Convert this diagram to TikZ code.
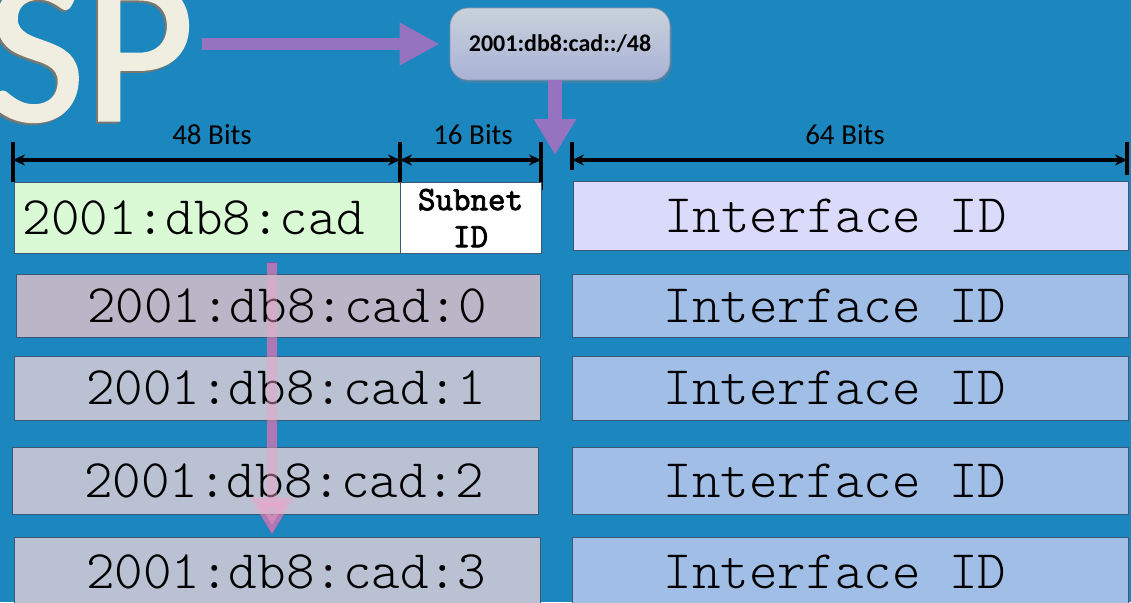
\documentclass[tikz,border=0pt]{standalone}
\usepackage{fontspec}
\setmainfont{Carlito}
\newfontfamily\monof{Latin Modern Mono Light}
\newfontfamily\subf[FakeBold=2.5]{Latin Modern Mono}
\newfontfamily\spfont[FakeBold=1.6]{Carlito}
\usetikzlibrary{arrows.meta,shadows,calc}
\definecolor{bg}{RGB}{28,134,190}
\definecolor{cream}{RGB}{240,237,225}
\definecolor{creamshade}{RGB}{120,120,112}
\definecolor{apurple}{RGB}{150,115,192}
\definecolor{apurpledark}{RGB}{118,88,165}
\definecolor{apink}{RGB}{245,160,200}
\definecolor{pfxtop}{RGB}{200,210,218}
\definecolor{pfxbot}{RGB}{170,178,214}
\definecolor{green0}{RGB}{217,250,213}
\definecolor{lav0}{RGB}{218,218,250}
\definecolor{row1}{RGB}{186,182,200}
\definecolor{rowx}{RGB}{186,193,210}
\definecolor{ifc}{RGB}{160,190,230}
\definecolor{edge}{RGB}{60,88,120}
\begin{document}
\begin{tikzpicture}[x=1pt,y=-1pt,
  cell/.style={draw=edge, line width=1pt, inner sep=0pt, text=black},
  monotext/.style={font=\monof\fontsize{54.3}{56}\selectfont},
  bitlabel/.style={font=\fontsize{29}{32}\selectfont, text=black, inner sep=0pt},
  dim/.style={line width=3.5pt, {Stealth[length=12pt,width=11pt]}-{Stealth[length=12pt,width=11pt]}},
  tick/.style={line width=3.5pt},
  fatarrow/.style={draw=apurple, line width=12pt, -{Triangle[length=40pt,width=40pt]}},
]
\fill[bg] (0,0) rectangle (1131,602);
\useasboundingbox (0,0) rectangle (1131,602);

% SP
\node[anchor=base west, inner sep=0pt, text=creamshade, font=\spfont\fontsize{212}{212}\selectfont] at (-15,122) {SP};
\node[anchor=base west, inner sep=0pt, text=cream, font=\spfont\fontsize{212}{212}\selectfont] (sp) at (-13,120) {SP};

% prefix box
\node[rounded corners=18pt, top color=pfxtop, bottom color=pfxbot, draw=pfxbot!80!black, line width=0.6pt,
      minimum width=220pt, minimum height=72pt, drop shadow={opacity=0.35, shadow xshift=2pt, shadow yshift=-3pt},
      font=\bfseries\fontsize{24}{26}\selectfont] (p) at (560,44) {2001:db8:cad::/48};

\draw[fatarrow, shorten <=8pt, shorten >=10pt] (sp.east |- p.west) -- (p.west);
\coordinate (dtip) at (555,155);
\draw[fatarrow, line width=14pt, -{Triangle[length=36pt,width=40pt]}] ([xshift=-5pt]p.south) -- (dtip);

% dimension lines
\foreach \n/\x/\b in {t0/13/182, t1/400/182, t2/541/190, t3/572/170, t4/1127/175} {
  \coordinate (\n a) at (\x,142);
  \coordinate (\n) at (\x,160);
  \coordinate (\n b) at (\x,\b);
  \draw[tick] (\n a) -- (\n b);
}
\draw[dim] (t0) -- (t1);
\draw[dim] (t1) -- (t2);
\draw[dim] (t3) -- (t4);
\node[bitlabel] (l48) at (212,135) {48 Bits};
\node[bitlabel] (l16) at (473,135) {16 Bits};
\node[bitlabel] (l64) at (845,135) {64 Bits};

% purple row arrow (underneath)
\coordinate (rtop) at (272,262);
\coordinate (rtip) at (272,535);
\draw[draw=apurpledark, line width=10pt, -{Triangle[length=37pt,width=41pt]}] (rtop) -- (rtip);

% row 0
\node[cell, fill=green0, minimum width=386pt, minimum height=71pt, monotext] (g) at (207,217.5) {2001:db8:cad\hspace*{26pt}};
\node[cell, fill=white, minimum width=141pt, minimum height=71pt, align=center,
      font=\subf\fontsize{34}{37}\selectfont] (sub) at (470.5,218) {Subnet\\ID};
\node[cell, fill=lav0, minimum width=555pt, minimum height=69pt, monotext] (i0) at (850.5,215.5) {Interface ID\hspace*{30pt}};

% rows 1-4
\node[cell, fill=row1, minimum width=524pt, minimum height=63pt, monotext] (r1) at (278,305.5) {\hspace*{18pt}2001:db8:cad:0};
\node[cell, fill=ifc, minimum width=556pt, minimum height=63pt, monotext] (i1) at (850,305.5) {Interface ID\hspace*{30pt}};
\node[cell, fill=rowx, minimum width=526pt, minimum height=64pt, monotext] (r2) at (277,388) {\hspace*{18pt}2001:db8:cad:1};
\node[cell, fill=ifc, minimum width=556pt, minimum height=64pt, monotext] (i2) at (850,388) {Interface ID\hspace*{30pt}};
\node[cell, fill=rowx, minimum width=526pt, minimum height=67pt, monotext] (r3) at (275,480.5) {\hspace*{18pt}2001:db8:cad:2};
\node[cell, fill=ifc, minimum width=556pt, minimum height=67pt, monotext] (i3) at (850,480.5) {Interface ID\hspace*{30pt}};
\node[cell, fill=rowx, minimum width=526pt, minimum height=69pt, monotext] (r4) at (277,571.5) {\hspace*{18pt}2001:db8:cad:3};
\node[cell, fill=ifc, minimum width=556pt, minimum height=69pt, monotext] (i4) at (850,571.5) {Interface ID\hspace*{30pt}};

% translucent overlay of the row arrow
\draw[draw=apink, opacity=0.45, line width=10pt, -{Triangle[length=37pt,width=41pt]}] ([shift={(65pt,-9pt)}]g.south) -- ([xshift=-5pt,yshift=2pt]r4.north);
\end{tikzpicture}
\end{document}
